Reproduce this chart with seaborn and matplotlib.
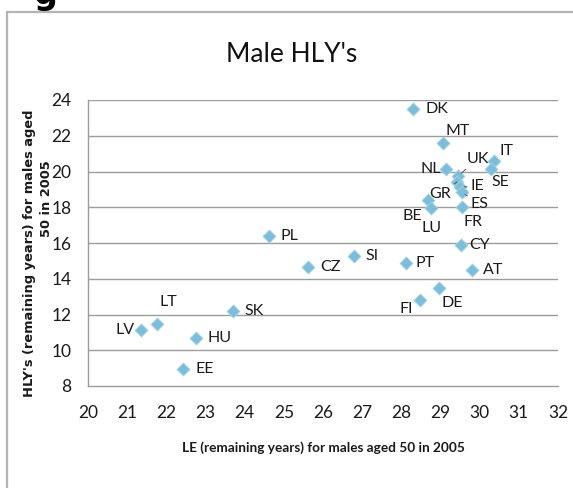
import matplotlib
matplotlib.use("Agg")
import matplotlib.pyplot as plt
import matplotlib.patches as mpatches
import pandas as pd
import seaborn as sns

# ── Data ──────────────────────────────────────────────────────
countries = ["DK", "MT", "NL", "UK", "GR", "IE", "ES", "IT", "SE", "BE", "LU", "FR",
             "CY", "PT", "AT", "DE", "FI", "PL", "CZ", "SI", "SK", "LT", "LV", "HU", "EE"]
le_years = [28.31, 29.07, 29.14, 29.45, 29.42, 29.50, 29.54, 30.37, 30.28, 28.67, 28.76, 29.56,
            29.52, 28.12, 29.80, 28.97, 28.48, 24.63, 25.61, 26.79, 23.69, 21.77, 21.35, 22.76, 22.43]
hly_years = [23.48, 21.58, 20.12, 19.75, 19.41, 19.13, 18.85, 20.59, 20.12, 18.41, 17.97, 18.00,
             15.89, 14.86, 14.49, 13.47, 12.81, 16.39, 14.64, 15.27, 12.20, 11.47, 11.13, 10.67, 8.93]

x_ticks = list(range(20, 33))
y_ticks = list(range(8, 25, 2))

# label placement: (dx px, dy px, ha, leader line)
label_pos = {
    "DK": (12, 0, "left", False), "MT": (2, 12, "left", False),
    "NL": (-5, 0, "right", False), "UK": (8, 17, "left", True),
    "GR": (-6, -12, "right", True), "IE": (10, 1, "left", True),
    "ES": (9, -12, "left", True), "IT": (5, 10, "left", False),
    "SE": (1, -13, "left", False), "BE": (-5, -16, "right", False),
    "LU": (0, -20, "center", False), "FR": (1, -15, "left", False),
    "CY": (8, 0, "left", False), "PT": (9, 0, "left", False),
    "AT": (11, 0, "left", False), "DE": (2, -15, "left", False),
    "FI": (-7, -9, "right", False), "PL": (11, 0, "left", False),
    "CZ": (13, 0, "left", False), "SI": (12, 0, "left", False),
    "SK": (12, 0, "left", False), "LT": (11, 22, "center", False),
    "LV": (-6, 0, "right", False), "HU": (11, 0, "left", False),
    "EE": (12, 0, "left", False),
}

NARROW = ["Lato", "DejaVu Sans"]
GRID = "#9c9c9c"
TEXT = "#1a1a1a"

df = pd.DataFrame({"country": countries, "le": le_years, "hly": hly_years})

sns.set_style("white")
fig = plt.figure(figsize=(5.73, 4.88), dpi=100)
ax = fig.add_axes([88 / 573, 1 - 386 / 488, 470 / 573, 286 / 488])

for y in y_ticks[1:]:
    ax.axhline(y, color=GRID, linewidth=1.0, zorder=0)

sns.scatterplot(data=df, x="le", y="hly", ax=ax, marker="D", s=44,
                color="#7cbdd9", edgecolor="#a9d4e8", linewidth=0.6, zorder=3, legend=False)

for c, x, y in zip(countries, le_years, hly_years):
    dx, dy, ha, leader = label_pos[c]
    ax.annotate(c, xy=(x, y), xytext=(dx, dy), textcoords="offset pixels",
                ha=ha, va="center", fontsize=11.5, color=TEXT, family=NARROW,
                arrowprops=dict(arrowstyle="-", color="#555555", lw=0.7,
                                shrinkA=0, shrinkB=3) if leader else None, zorder=4)

ax.set_xlim(20, 32)
ax.set_ylim(8, 24)
ax.set_xticks(x_ticks)
ax.set_yticks(y_ticks)
ax.set_xticklabels([str(t) for t in x_ticks], family=NARROW, fontsize=12.5, color=TEXT)
ax.set_yticklabels([str(t) for t in y_ticks], family=NARROW, fontsize=12.5, color=TEXT)
ax.tick_params(axis="both", length=0)
ax.tick_params(axis="x", pad=14)
ax.tick_params(axis="y", pad=12)
for side in ["top", "right"]:
    ax.spines[side].set_visible(False)
for side in ["left", "bottom"]:
    ax.spines[side].set_color(GRID)
    ax.spines[side].set_linewidth(1.0)
ax.set_xlabel("")
ax.set_ylabel("")

fig.text(323 / 573, 1 - 448 / 488, "LE (remaining years) for males aged 50 in 2005",
         ha="center", va="center", fontsize=9.8, fontweight="bold", family=NARROW, color=TEXT)
fig.text(30 / 573, 1 - 253 / 488, "HLY's (remaining years) for males aged",
         ha="center", va="center", rotation=90, fontsize=9.4, fontweight="bold", color=TEXT)
fig.text(46 / 573, 1 - 199 / 488, "50 in 2005",
         ha="center", va="center", rotation=90, fontsize=9.4, fontweight="bold", color=TEXT)

fig.text(292 / 573, 1 - 55 / 488, "Male HLY's", ha="center", va="center",
         fontsize=19, family=NARROW, color="#111111")

# clipped slide title and chart frame
fig.text(45 / 573, 1 - 11 / 488, "g", ha="center", va="bottom", fontsize=24,
         fontweight="bold", color="black")
fig.add_artist(mpatches.Rectangle((7 / 573, -0.1), 1.0, 1 - 12 / 488 + 0.1,
                                  transform=fig.transFigure, fill=False,
                                  edgecolor="#b4b4b4", linewidth=1.6))

fig.savefig("out.png", dpi=100, facecolor="white")
